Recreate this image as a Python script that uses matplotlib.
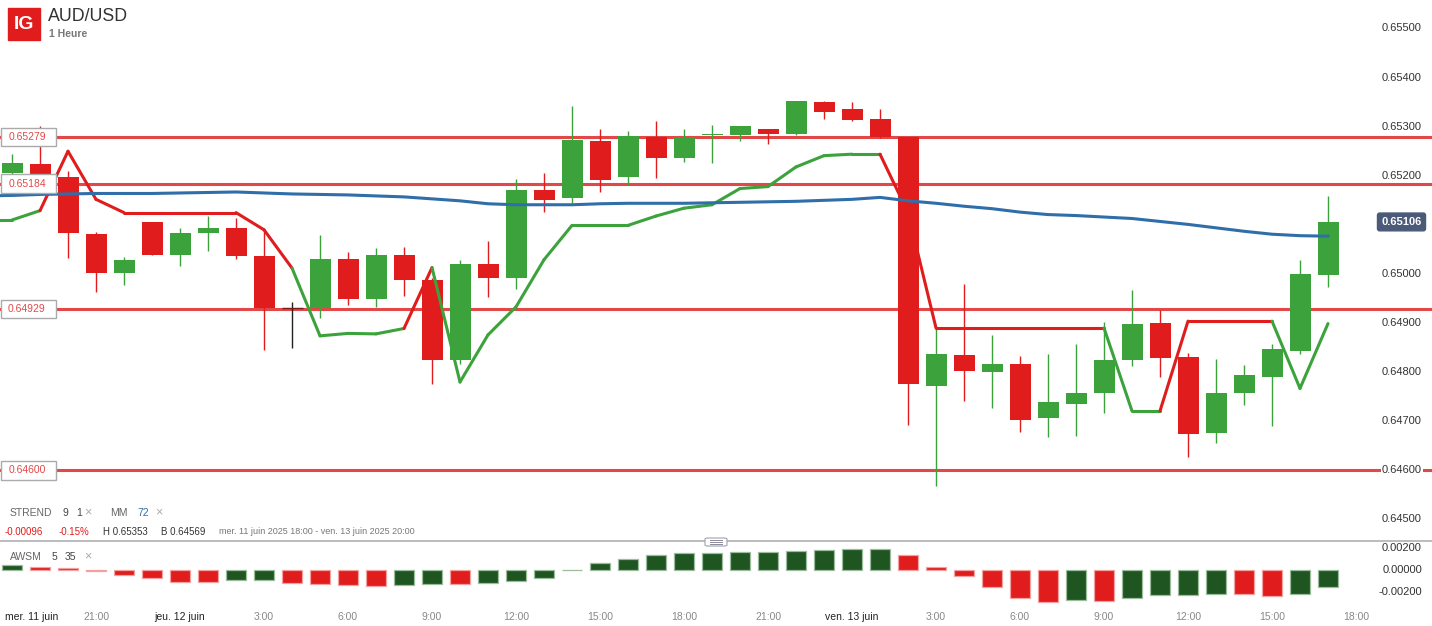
import matplotlib.pyplot as plt
import matplotlib.transforms as mtransforms
from matplotlib.patches import Rectangle, FancyBboxPatch
from matplotlib.lines import Line2D

plt.rcParams['font.family'] = ['Liberation Sans', 'DejaVu Sans']

# ===== data (AUD/USD, 1h candles, mer. 11 juin 18:00 -> ven. 13 juin 17:00)
opens = [0.65206, 0.65225, 0.65198, 0.65082, 0.65002, 0.65106, 0.65039, 0.65084, 0.65094, 0.65037,
         0.64931, 0.64931, 0.65031, 0.64949, 0.65039, 0.64988, 0.64825, 0.65020, 0.64992, 0.65171,
         0.65155, 0.65271, 0.65198, 0.65280, 0.65237, 0.65284, 0.65284, 0.65296, 0.65286, 0.65350,
         0.65335, 0.65316, 0.65278, 0.64771, 0.64835, 0.64800, 0.64816, 0.64706, 0.64735, 0.64757,
         0.64825, 0.64900, 0.64831, 0.64676, 0.64757, 0.64790, 0.64843, 0.64998]
highs = [0.65245, 0.65302, 0.65210, 0.65086, 0.65035, 0.65106, 0.65094, 0.65118, 0.65114, 0.65090,
         0.64943, 0.65080, 0.65045, 0.65053, 0.65055, 0.64992, 0.65029, 0.65067, 0.65194, 0.65206,
         0.65343, 0.65296, 0.65292, 0.65312, 0.65296, 0.65304, 0.65302, 0.65296, 0.65353, 0.65352,
         0.65351, 0.65335, 0.65278, 0.64888, 0.64980, 0.64876, 0.64833, 0.64837, 0.64857, 0.64902,
         0.64967, 0.64927, 0.64839, 0.64827, 0.64814, 0.64857, 0.65029, 0.65159]
lows = [0.65161, 0.65194, 0.65033, 0.64963, 0.64978, 0.65039, 0.65016, 0.65047, 0.65031, 0.64845,
        0.64849, 0.64910, 0.64937, 0.64933, 0.64955, 0.64776, 0.64816, 0.64953, 0.64969, 0.65127,
        0.65145, 0.65167, 0.65182, 0.65196, 0.65229, 0.65227, 0.65271, 0.65265, 0.65284, 0.65316,
        0.65312, 0.65276, 0.64692, 0.64569, 0.64741, 0.64727, 0.64678, 0.64667, 0.64671, 0.64716,
        0.64812, 0.64790, 0.64627, 0.64655, 0.64733, 0.64690, 0.64837, 0.64974]
closes = [0.65227, 0.65198, 0.65084, 0.65002, 0.65029, 0.65039, 0.65084, 0.65094, 0.65037, 0.64931,
          0.64931, 0.65031, 0.64949, 0.65039, 0.64988, 0.64825, 0.65020, 0.64992, 0.65171, 0.65151,
          0.65273, 0.65192, 0.65282, 0.65237, 0.65280, 0.65286, 0.65302, 0.65286, 0.65353, 0.65329,
          0.65314, 0.65278, 0.64776, 0.64837, 0.64802, 0.64816, 0.64702, 0.64739, 0.64757, 0.64825,
          0.64898, 0.64829, 0.64674, 0.64757, 0.64794, 0.64847, 0.65000, 0.65106]

# indicators start one bar before the first visible candle (index -1)
mm72 = [0.65159, 0.65160, 0.65162, 0.65163, 0.65164, 0.65164, 0.65164, 0.65165, 0.65166, 0.65167,
        0.65165, 0.65163, 0.65162, 0.65161, 0.65159, 0.65157, 0.65153, 0.65149, 0.65143, 0.65141,
        0.65141, 0.65141, 0.65143, 0.65144, 0.65144, 0.65144, 0.65145, 0.65146, 0.65147, 0.65148,
        0.65150, 0.65152, 0.65156, 0.65149, 0.65144, 0.65138, 0.65133, 0.65126, 0.65121, 0.65119,
        0.65116, 0.65113, 0.65107, 0.65101, 0.65094, 0.65087, 0.65081, 0.65078, 0.65077]
strend = [0.65110, 0.65110, 0.65129, 0.65250, 0.65152, 0.65125, 0.65125, 0.65125, 0.65125, 0.65125,
          0.65090, 0.65012, 0.64874, 0.64879, 0.64878, 0.64889, 0.65013, 0.64780, 0.64876, 0.64933,
          0.65029, 0.65099, 0.65099, 0.65099, 0.65118, 0.65134, 0.65141, 0.65174, 0.65178, 0.65218,
          0.65241, 0.65244, 0.65244, 0.65125, 0.64890, 0.64890, 0.64890, 0.64890, 0.64890, 0.64890,
          0.64890, 0.64721, 0.64721, 0.64904, 0.64904, 0.64904, 0.64904, 0.64767, 0.64899]

awsm = [0.00043, 0.00027, 0.00018, -0.00015, -0.00048, -0.00073, -0.00109, -0.00115, -0.00096, -0.00095,
        -0.00124, -0.00127, -0.00139, -0.00151, -0.00136, -0.00133, -0.00134, -0.00125, -0.00105, -0.00071,
        0.00001, 0.00059, 0.00100, 0.00134, 0.00149, 0.00150, 0.00158, 0.00161, 0.00170, 0.00179,
        0.00185, 0.00188, 0.00134, 0.00027, -0.00061, -0.00161, -0.00258, -0.00294, -0.00279, -0.00282,
        -0.00261, -0.00234, -0.00227, -0.00222, -0.00225, -0.00243, -0.00225, -0.00161]

levels = [0.65279, 0.65184, 0.64929, 0.64600]
# 0.65100 sits under the last-price tag, so it is not listed
price_ticks = [0.655, 0.654, 0.653, 0.652, 0.650, 0.649, 0.648, 0.647, 0.646, 0.645]
awsm_ticks = [0.002, 0.0, -0.002]
last_price = 0.65106

# x labels: (bar index, text, is_date)
xlabels = [(0, 'mer. 11 juin', True), (3, '21:00', False), (6, 'jeu. 12 juin', True), (9, '3:00', False),
           (12, '6:00', False), (15, '9:00', False), (18, '12:00', False), (21, '15:00', False),
           (24, '18:00', False), (27, '21:00', False), (30, 'ven. 13 juin', True), (33, '3:00', False),
           (36, '6:00', False), (39, '9:00', False), (42, '12:00', False), (45, '15:00', False),
           (48, '18:00', False)]

GREEN = '#3ca33c'
RED = '#e01c1c'
LVL_RED = '#e24848'
W, H = 1432, 626
XLIM = (-12 / 28, (W - 12) / 28)

fig = plt.figure(figsize=(W / 100, H / 100), dpi=100)
fig.patch.set_facecolor('white')

# main price panel: full width, pixel rows 0-541
ax = fig.add_axes([0, 1 - 541 / H, 1, 541 / H])
ax.set_axis_off()
ax.set_xlim(*XLIM)
ax.set_ylim(0.644562, 0.655580)

n = len(closes)
for i in range(n):
    o, h, l, c = opens[i], highs[i], lows[i], closes[i]
    if c > o:
        col = GREEN
    elif c < o:
        col = RED
    else:
        col = '#222222'
    ax.vlines(i, l, h, color=col, lw=1.0, zorder=3)
    if c == o:
        ax.hlines(c, i - 0.375, i + 0.375, color='#7a1a1a', lw=1.0, zorder=3)
    else:
        ax.bar(i, abs(c - o), bottom=min(o, c), width=0.75, color=col, lw=0, zorder=3)

# support / resistance lines with their boxed labels on the left
for lv in levels:
    ax.axhline(lv, color=LVL_RED, lw=2.2, zorder=2)
    ax.add_patch(Rectangle((XLIM[0] + 0.02, lv - 0.00019), 55 / 28, 0.00038, fc='white',
                           ec='#aaaaaa', lw=1.0, zorder=6))
    ax.text(15 / 28, lv, f'{lv:.5f}', color=LVL_RED, fontsize=7.5, ha='center', va='center', zorder=7)

# supertrend: segment colour = trend at its end point
st_x = list(range(-1, n))
for k in range(1, len(strend)):
    col = RED if strend[k] > closes[st_x[k]] else GREEN
    ax.plot([st_x[k - 1], st_x[k]], [strend[k - 1], strend[k]], color=col, lw=2.2,
            solid_capstyle='round', zorder=4)

# moving average 72
ax.plot(st_x, mm72, color='#2f6ea8', lw=2.2, zorder=5)

# right price axis labels
tr = mtransforms.blended_transform_factory(fig.transFigure, ax.transData)
for v in price_ticks:
    ax.text(1422 / W, v, f'{v:.5f}', transform=tr, fontsize=8, color='#333333',
            ha='right', va='center', zorder=6,
            bbox=dict(boxstyle='square,pad=0.1', fc='white', ec='none'))
ax.text(1401.5 / W, last_price, f'{last_price:.5f}', transform=tr, fontsize=8, color='white',
        fontweight='bold', ha='center', va='center', zorder=7,
        bbox=dict(boxstyle='round,pad=0.35,rounding_size=0.2', fc='#4a5a78', ec='#4a5a78'))

# AWSM panel
ax2 = fig.add_axes([0, 1 - 606 / H, 1, 65 / H])
ax2.set_axis_off()
ax2.set_xlim(*XLIM)
ax2.set_ylim(-0.0033, 0.002609)
for i, v in enumerate(awsm):
    up = i == 0 or v >= awsm[i - 1]
    fc = '#1e5520' if up else RED
    ec = '#9dbb9d' if up else '#f3a0a0'
    ax2.bar(i, v, width=0.71, color=fc, edgecolor=ec, lw=0.9, zorder=3)
tr2 = mtransforms.blended_transform_factory(fig.transFigure, ax2.transData)
for v in awsm_ticks:
    ax2.text(1422 / W, v, f'{v:.5f}', transform=tr2, fontsize=8, color='#333333',
             ha='right', va='center')

# header
fig.patches.append(Rectangle((8 / W, 1 - 40 / H), 32 / W, 32 / H, transform=fig.transFigure,
                             color=RED, zorder=1))
fig.text(24 / W, 1 - 24.5 / H, 'IG', color='white', fontsize=14, fontweight='bold',
         ha='center', va='center')
fig.text(48 / W, 1 - 16.5 / H, 'AUD/USD', color='#333333', fontsize=12.8, va='center')
fig.text(49 / W, 1 - 34 / H, '1 Heure', color='#777777', fontsize=7.5, fontweight='bold', va='center')


def ftext(x, y, s, color='#666666', size=7.5, **kw):
    fig.text(x / W, 1 - y / H, s, color=color, fontsize=size, va='center', **kw)


# indicator legend lines
ftext(10, 513, 'STREND')
ftext(62, 513, '9', color='#444444')
ftext(76, 513, '1', color='#444444')
ftext(84, 512, '\u00d7', color='#aaaaaa', size=9)
ftext(110, 513, 'MM')
ftext(137, 513, '72', color='#2f6ea8')
ftext(155, 512, '\u00d7', color='#aaaaaa', size=9)
ftext(5, 532, '-0.00096', color=RED, size=7)
ftext(59, 532, '-0.15%', color=RED, size=7)
ftext(103, 532, 'H 0.65353', color='#333333', size=7)
ftext(161, 532, 'B 0.64569', color='#333333', size=7)
ftext(219, 532, 'mer. 11 juin 2025 18:00 - ven. 13 juin 2025 20:00', color='#777777', size=6.5)
ftext(10, 557, 'AWSM')
ftext(52, 557, '5', color='#444444')
ftext(65, 557, '35', color='#444444')
ftext(84, 556, '\u00d7', color='#aaaaaa', size=9)

# separator between panels with its handle
fig.add_artist(Line2D([0, 1], [1 - 541 / H, 1 - 541 / H], transform=fig.transFigure,
                      color='#b0b0b0', lw=1.2))
fig.patches.append(FancyBboxPatch((705 / W, 1 - 546 / H), 22 / W, 8 / H, transform=fig.transFigure,
                                  boxstyle='round,pad=0,rounding_size=0.002', fc='white',
                                  ec='#a0a0b0', lw=0.8, zorder=5))
for dy in (-2, 0, 2):
    fig.add_artist(Line2D([710 / W, 722 / W], [1 - (542 + dy) / H] * 2, transform=fig.transFigure,
                          color='#8a8a9a', lw=0.7, zorder=6))

# time axis labels (first date is pinned to the left edge)
for i, s, is_date in xlabels:
    col = '#222222' if is_date else '#888888'
    if i == 0:
        ftext(5, 617, s, color=col)
    else:
        ftext(12 + 28 * i, 617, s, color=col, ha='center')

fig.savefig('out.png', dpi=100)
